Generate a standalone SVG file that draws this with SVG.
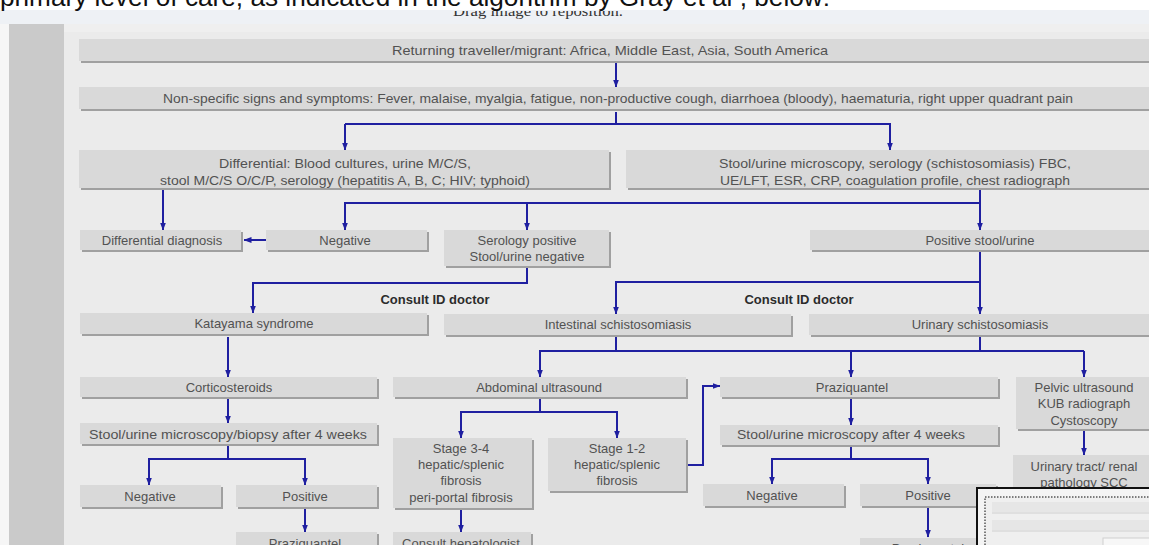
<svg xmlns="http://www.w3.org/2000/svg" width="1149" height="545" viewBox="0 0 1149 545">
<defs>
<style>
.sh{fill:#a0a0a0}
.bx{fill:#d9d9d9}
.t{font-family:"Liberation Sans",Arial,sans-serif;font-size:13px;fill:#525252;text-anchor:middle}
.b{font-weight:bold;fill:#2b2b2b}
.c{stroke:#1f1fa0;stroke-width:2;fill:none}
.ca{stroke:#1f1fa0;stroke-width:2;fill:none;marker-end:url(#ah)}
</style>
<marker id="ah" viewBox="0 0 8 8" refX="7.5" refY="4" markerWidth="8" markerHeight="8" orient="auto" markerUnits="userSpaceOnUse">
<path d="M0,1 L8,4 L0,7 Z" fill="#1f1fa0"/>
</marker>
<clipPath id="clipTop"><rect x="0" y="11" width="1149" height="13"/></clipPath>
</defs>

<!-- page background -->
<rect x="0" y="0" width="1149" height="545" fill="#ffffff"/>
<rect x="0" y="10" width="1149" height="14" fill="#eef1f5"/>
<text x="538" y="16" clip-path="url(#clipTop)" textLength="170" lengthAdjust="spacingAndGlyphs" style="font-family:'Liberation Serif','Times New Roman',serif;font-size:15px;fill:#333;text-anchor:middle">Drag image to reposition.</text>
<text x="0" y="6" textLength="830" lengthAdjust="spacingAndGlyphs" style="font-family:'Liberation Sans',Arial,sans-serif;font-size:26px;fill:#111">primary level of care, as indicated in the algorithm by Gray et al , below:</text>
<rect x="0" y="24" width="1149" height="521" fill="#f6f6f6"/>
<rect x="9" y="24" width="55" height="521" fill="#cacaca"/>
<rect x="64" y="24" width="1085" height="521" fill="#ebebeb"/>
<rect x="64" y="24" width="1085" height="8" fill="#efefef"/>

<!-- connectors -->
<g id="connectors">
<path class="ca" d="M616,62 V87"/>
<path class="c" d="M616,112 V124"/>
<path class="ca" d="M345,124 V150"/>
<path class="ca" d="M345,124 H890 V150"/>
<path class="ca" d="M163,190 V230"/>
<path class="c" d="M980,190 V203"/>
<path class="ca" d="M980,203 H345 V230"/>
<path class="ca" d="M527,203 V230"/>
<path class="ca" d="M980,203 V230"/>
<path class="ca" d="M266,240 H244"/>
<path class="ca" d="M527,268 V283 H253 V313"/>
<path class="c" d="M980,252 V282"/>
<path class="ca" d="M980,282 H616 V314"/>
<path class="ca" d="M980,282 V314"/>
<path class="ca" d="M228,337 V377"/>
<path class="c" d="M616,337 V351"/>
<path class="c" d="M980,337 V351"/>
<path class="ca" d="M1084,351 H540 V377"/>
<path class="ca" d="M851,351 V377"/>
<path class="ca" d="M1084,351 V377"/>
<path class="ca" d="M228,399 V423"/>
<path class="c" d="M228,446 V459"/>
<path class="ca" d="M228,459 H149 V485"/>
<path class="ca" d="M228,459 H305 V485"/>
<path class="ca" d="M305,509 V532"/>
<path class="c" d="M540,399 V412"/>
<path class="ca" d="M540,412 H461 V438"/>
<path class="ca" d="M540,412 H617 V438"/>
<path class="ca" d="M461,510 V532"/>
<path class="ca" d="M688,465 H703 V386 H720"/>
<path class="ca" d="M851,399 V425"/>
<path class="c" d="M851,447 V459"/>
<path class="ca" d="M851,459 H772 V484"/>
<path class="ca" d="M851,459 H928 V484"/>
<path class="ca" d="M928,508 V537"/>
<path class="ca" d="M1084,431 V455"/>
</g>

<!-- nodes -->
<g id="n-returning"><rect class="sh" x="81" y="41" width="1080" height="22"/><rect class="bx" x="79" y="39" width="1080" height="22"/><text class="t" x="610" y="55" textLength="436" lengthAdjust="spacingAndGlyphs">Returning traveller/migrant: Africa, Middle East, Asia, South America</text></g>
<g id="n-nonspecific"><rect class="sh" x="81" y="89" width="1080" height="22"/><rect class="bx" x="79" y="87" width="1080" height="22"/><text class="t" x="618" y="102.5" textLength="910" lengthAdjust="spacingAndGlyphs">Non-specific signs and symptoms: Fever, malaise, myalgia, fatigue, non-productive cough, diarrhoea (bloody), haematuria, right upper quadrant pain</text></g>
<g id="n-differential"><rect class="sh" x="81" y="152" width="530" height="38"/><rect class="bx" x="79" y="150" width="530" height="38"/><text class="t" x="345" y="168" textLength="252" lengthAdjust="spacingAndGlyphs">Differential: Blood cultures, urine M/C/S,</text><text class="t" x="345" y="185" textLength="370" lengthAdjust="spacingAndGlyphs">stool M/C/S O/C/P, serology (hepatitis A, B, C; HIV; typhoid)</text></g>
<g id="n-stoolurine"><rect class="sh" x="628" y="152" width="540" height="38"/><rect class="bx" x="626" y="150" width="540" height="38"/><text class="t" x="895" y="168" textLength="352" lengthAdjust="spacingAndGlyphs">Stool/urine microscopy, serology (schistosomiasis) FBC,</text><text class="t" x="895" y="185" textLength="350" lengthAdjust="spacingAndGlyphs">UE/LFT, ESR, CRP, coagulation profile, chest radiograph</text></g>
<g id="n-diffdiag"><rect class="sh" x="82" y="232" width="161" height="20"/><rect class="bx" x="80" y="230" width="161" height="20"/><text class="t" x="162" y="244.5">Differential diagnosis</text></g>
<g id="n-negative1"><rect class="sh" x="268" y="232" width="161" height="20"/><rect class="bx" x="266" y="230" width="161" height="20"/><text class="t" x="345" y="244.5">Negative</text></g>
<g id="n-serology"><rect class="sh" x="446" y="232" width="165" height="36"/><rect class="bx" x="444" y="230" width="165" height="36"/><text class="t" x="527" y="244.5">Serology positive</text><text class="t" x="527" y="260.5">Stool/urine negative</text></g>
<g id="n-positive-su"><rect class="sh" x="812" y="232" width="345" height="20"/><rect class="bx" x="810" y="230" width="345" height="20"/><text class="t" x="980" y="244.5">Positive stool/urine</text></g>
<g id="l-consult1"><text class="t b" x="435" y="303.5">Consult ID doctor</text></g>
<g id="l-consult2"><text class="t b" x="799" y="303.5">Consult ID doctor</text></g>
<g id="n-katayama"><rect class="sh" x="82" y="315" width="347" height="21"/><rect class="bx" x="80" y="313" width="347" height="21"/><text class="t" x="254" y="328">Katayama syndrome</text></g>
<g id="n-intestinal"><rect class="sh" x="446" y="316" width="347" height="21"/><rect class="bx" x="444" y="314" width="347" height="21"/><text class="t" x="618" y="328.5">Intestinal schistosomiasis</text></g>
<g id="n-urinary"><rect class="sh" x="811" y="316" width="345" height="21"/><rect class="bx" x="809" y="314" width="345" height="21"/><text class="t" x="980" y="328.5">Urinary schistosomiasis</text></g>
<g id="n-cortico"><rect class="sh" x="82" y="379" width="297" height="20"/><rect class="bx" x="80" y="377" width="297" height="20"/><text class="t" x="229" y="391.5">Corticosteroids</text></g>
<g id="n-abdominal"><rect class="sh" x="395" y="379" width="293" height="20"/><rect class="bx" x="393" y="377" width="293" height="20"/><text class="t" x="539" y="391.5">Abdominal ultrasound</text></g>
<g id="n-praz1"><rect class="sh" x="722" y="379" width="278" height="20"/><rect class="bx" x="720" y="377" width="278" height="20"/><text class="t" x="852" y="391.5">Praziquantel</text></g>
<g id="n-pelvic"><rect class="sh" x="1018" y="379" width="140" height="52"/><rect class="bx" x="1016" y="377" width="140" height="52"/><text class="t" x="1084" y="391.5">Pelvic ultrasound</text><text class="t" x="1084" y="407.5">KUB radiograph</text><text class="t" x="1084" y="424.5">Cystoscopy</text></g>
<g id="n-biopsy"><rect class="sh" x="82" y="425" width="297" height="21"/><rect class="bx" x="80" y="423" width="297" height="21"/><text class="t" x="228" y="438.5" textLength="278" lengthAdjust="spacingAndGlyphs">Stool/urine microscopy/biopsy after 4 weeks</text></g>
<g id="n-stage34"><rect class="sh" x="395" y="440" width="139" height="70"/><rect class="bx" x="393" y="438" width="139" height="70"/><text class="t" x="461" y="452.5">Stage 3-4</text><text class="t" x="461" y="468.5">hepatic/splenic</text><text class="t" x="461" y="484.5">fibrosis</text><text class="t" x="461" y="501.5">peri-portal fibrosis</text></g>
<g id="n-stage12"><rect class="sh" x="550" y="440" width="138" height="53"/><rect class="bx" x="548" y="438" width="138" height="53"/><text class="t" x="617" y="452.5">Stage 1-2</text><text class="t" x="617" y="468.5">hepatic/splenic</text><text class="t" x="617" y="484.5">fibrosis</text></g>
<g id="n-micro4"><rect class="sh" x="722" y="427" width="278" height="20"/><rect class="bx" x="720" y="425" width="278" height="20"/><text class="t" x="851" y="438.5" textLength="228" lengthAdjust="spacingAndGlyphs">Stool/urine microscopy after 4 weeks</text></g>
<g id="n-urinarytract"><rect class="sh" x="1015" y="457" width="145" height="38"/><rect class="bx" x="1013" y="455" width="145" height="38"/><text class="t" x="1084" y="470.5">Urinary tract/ renal</text><text class="t" x="1084" y="486.5">pathology SCC</text></g>
<g id="n-negative2"><rect class="sh" x="82" y="487" width="141" height="22"/><rect class="bx" x="80" y="485" width="141" height="22"/><text class="t" x="150" y="500.5">Negative</text></g>
<g id="n-positive2"><rect class="sh" x="238" y="487" width="141" height="22"/><rect class="bx" x="236" y="485" width="141" height="22"/><text class="t" x="305" y="500.5">Positive</text></g>
<g id="n-negative3"><rect class="sh" x="705" y="486" width="141" height="22"/><rect class="bx" x="703" y="484" width="141" height="22"/><text class="t" x="772" y="499.5">Negative</text></g>
<g id="n-positive3"><rect class="sh" x="862" y="486" width="136" height="22"/><rect class="bx" x="860" y="484" width="136" height="22"/><text class="t" x="928" y="499.5">Positive</text></g>
<g id="n-praz2"><rect class="sh" x="238" y="534" width="141" height="20"/><rect class="bx" x="236" y="532" width="141" height="20"/><text class="t" x="305" y="548">Praziquantel</text></g>
<g id="n-hepatologist"><rect class="sh" x="395" y="534" width="138" height="20"/><rect class="bx" x="393" y="532" width="138" height="20"/><text class="t" x="461" y="548">Consult hepatologist</text></g>
<g id="n-praz3"><rect class="sh" x="862" y="540" width="136" height="20"/><rect class="bx" x="860" y="538" width="136" height="20"/><text class="t" x="928" y="553">Praziquantel</text></g>

<!-- minimap overlay -->
<g id="minimap">
<rect x="977" y="488" width="174" height="60" fill="#f4f4f4" stroke="#111" stroke-width="2"/>
<rect x="985" y="497" width="170" height="52" fill="#efefef" stroke="#555" stroke-width="1.5" stroke-dasharray="1.5,1.5"/>
<rect x="992" y="502" width="160" height="10" fill="#e6e6e6"/>
<line x1="992" y1="513" x2="1149" y2="513" stroke="#cfcfcf" stroke-width="1"/>
<rect x="992" y="520" width="160" height="10" fill="#e6e6e6"/>
<line x1="992" y1="531" x2="1149" y2="531" stroke="#cfcfcf" stroke-width="1"/>
<rect x="1103" y="538" width="50" height="10" fill="#f7f7f7" stroke="#cfcfcf" stroke-width="1"/>
</g>
</svg>
